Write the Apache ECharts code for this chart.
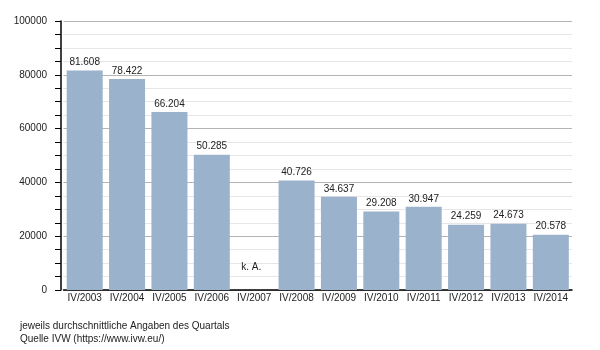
<!DOCTYPE html>
<html>
<head>
<meta charset="utf-8">
<script src="https://cdn.jsdelivr.net/npm/echarts@6/dist/echarts.min.js"></script>
<style>
  html, body { margin: 0; padding: 0; background: #fff; }
  #chart { width: 600px; height: 350px; }
</style>
</head>
<body>
<div id="chart"></div>
<script>
// Quarterly average figures (IV quarter of each year); null = no data ("k. A.")
const categories = ['IV/2003', 'IV/2004', 'IV/2005', 'IV/2006', 'IV/2007', 'IV/2008',
                    'IV/2009', 'IV/2010', 'IV/2011', 'IV/2012', 'IV/2013', 'IV/2014'];
const values = [81608, 78422, 66204, 50285, null, 40726, 34637, 29208, 30947, 24259, 24673, 20578];
const yTicks = [0, 20000, 40000, 60000, 80000, 100000];
const noDataText = 'k. A.';
const footnotes = ['jeweils durchschnittliche Angaben des Quartals', 'Quelle IVW (https://www.ivw.eu/)'];

const FONT = '"Liberation Sans", Arial, sans-serif';

// German number format with dot as thousands separator
function fmt(v) {
  return String(v).replace(/\B(?=(\d{3})+(?!\d))/g, '.');
}

const barData = values.map(v => {
  if (v === null) {
    return {
      value: 0,
      label: { formatter: noDataText, offset: [-3, -15] }
    };
  }
  return v;
});

const chart = echarts.init(document.getElementById('chart'), null, { renderer: 'canvas' });
chart.setOption({
  backgroundColor: '#ffffff',
  animation: false,
  textStyle: { fontFamily: FONT },
  title: {
    text: footnotes.join('\n'),
    left: 15,
    top: 315,
    textStyle: { fontFamily: FONT, fontSize: 10, fontWeight: 'normal', color: '#222', lineHeight: 13 }
  },
  grid: { left: 63.5, right: 28, top: 21, bottom: 60, containLabel: false },
  xAxis: {
    type: 'category',
    data: categories,
    axisLine: { show: true, lineStyle: { color: '#000', width: 1.5 } },
    axisTick: { show: false },
    axisLabel: { color: '#222', fontSize: 10, fontFamily: FONT, margin: 3, interval: 0 },
    splitLine: { show: false }
  },
  yAxis: {
    type: 'value',
    min: yTicks[0],
    max: yTicks[yTicks.length - 1],
    interval: yTicks[1] - yTicks[0],
    offset: 2.5,
    axisLine: { show: true, lineStyle: { color: '#000', width: 1.5 } },
    axisTick: { show: true, inside: false, length: 6, lineStyle: { color: '#000' } },
    minorTick: { show: true, splitNumber: 4, length: 6, lineStyle: { color: '#000' } },
    axisLabel: { color: '#222', fontSize: 10, fontFamily: FONT, margin: 14, formatter: v => String(v) },
    splitLine: { show: true, lineStyle: { color: '#b4b4b4', width: 1 } },
    minorSplitLine: { show: true, lineStyle: { color: '#e6e6e6', width: 1 } }
  },
  series: [{
    type: 'bar',
    data: barData,
    barWidth: 36,
    itemStyle: { color: '#9ab2cc' },
    label: {
      show: true,
      position: 'top',
      distance: 3,
      color: '#222',
      fontSize: 10,
      fontFamily: FONT,
      formatter: p => fmt(p.value)
    }
  }]
});
</script>
</body>
</html>
